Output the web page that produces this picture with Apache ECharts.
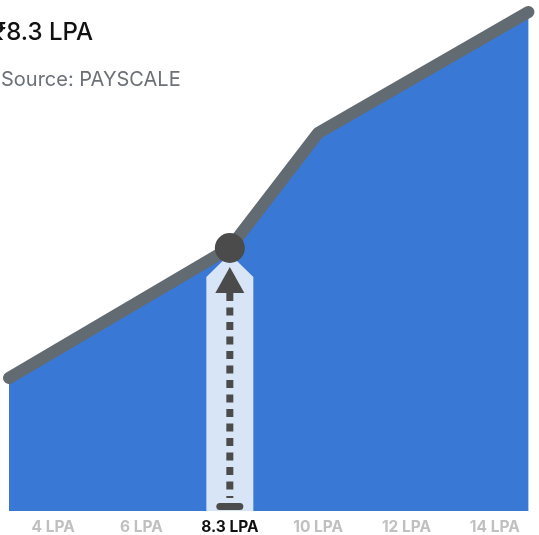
<!DOCTYPE html>
<html>
<head>
<meta charset="utf-8">
<script src="https://cdn.jsdelivr.net/npm/echarts@6/dist/echarts.min.js"></script>
<style>
  html, body { margin: 0; padding: 0; background: #fff; }
  #chart { width: 539px; height: 535px; }
</style>
</head>
<body>
<div id="chart"></div>
<script>
// tick labels along the bottom
const salaryLabels = ["4 LPA", "6 LPA", "8.3 LPA", "10 LPA", "12 LPA", "14 LPA"];
const highlightIndex = 2;
// curve: x position in label slots, y in chart units
const curveX = [-0.5, 2, 3, 5.38];
const curveY = [133, 263, 378, 499];
// the marked salary point
const markerX = 2;
const markerY = 263;

const chart = echarts.init(document.getElementById("chart"));

const dark = "#4b4b4b";

const options = {
    animation: false,
    title: [
        {
            text: "₹8.3 LPA",
            left: -12,
            top: 16,
            textStyle: { fontFamily: "Inter", fontSize: 24, fontWeight: 500, color: "#111" },
        },
        {
            text: "Source: PAYSCALE",
            left: -4,
            top: 65,
            textStyle: { fontFamily: "Inter", fontSize: 20, fontWeight: 400, color: "#6b7177" },
        },
    ],
    grid: { left: 9, width: 534, top: 0, bottom: 24 },
    xAxis: [
        {
            type: "category",
            data: salaryLabels,
            boundaryGap: true,
            axisLine: { show: false },
            axisTick: { show: false },
            axisLabel: {
                interval: 0,
                margin: 8,
                fontFamily: "Inter",
                fontSize: 15.5,
                fontWeight: 700,
                color: "#c0c0c0",
                formatter: (v, i) => (i === highlightIndex ? "{hl|" + v + "}" : "{dim|" + v + "}"),
                rich: {
                    dim: { fontFamily: "Inter", fontSize: 15.5, fontWeight: 700, color: "#c0c0c0" },
                    hl: { fontFamily: "Inter", fontSize: 15.5, fontWeight: 700, color: "#111" },
                },
            },
        },
        { type: "value", min: -0.5, max: 5.5, show: false },
    ],
    yAxis: { type: "value", min: 0, max: 511, show: false },
    series: [
        {
            type: "line",
            xAxisIndex: 1,
            data: curveX.map((x, i) => [x, curveY[i]]),
            symbol: "none",
            lineStyle: { color: "#626b72", width: 12, cap: "round", join: "round" },
            areaStyle: { color: "#3a78d6", opacity: 1 },
            z: 2,
        },
        {
            type: "custom",
            xAxisIndex: 1,
            data: [[markerX, markerY]],
            z: 5,
            renderItem: (params, api) => {
                const top = api.coord([api.value(0), api.value(1)]);
                const base = api.coord([api.value(0), 0]);
                const cx = top[0], cy = top[1], by = base[1];
                const half = 23.5;
                return {
                    type: "group",
                    children: [
                        {
                            type: "polygon",
                            shape: { points: [[cx - half, by], [cx - half, cy + 29], [cx, cy + 6], [cx + half, cy + 29], [cx + half, by]] },
                            style: { fill: "#d8e5f7" },
                        },
                        {
                            type: "polygon",
                            shape: { points: [[cx, cy + 19], [cx - 14.5, cy + 45], [cx + 14.5, cy + 45]] },
                            style: { fill: dark },
                        },
                        {
                            type: "line",
                            shape: { x1: cx, y1: cy + 45, x2: cx, y2: by - 13 },
                            style: { stroke: dark, lineWidth: 7, lineDash: [8, 6.5] },
                        },
                        {
                            type: "rect",
                            shape: { x: cx - 13.5, y: by - 8, width: 27, height: 7, r: 3.5 },
                            style: { fill: dark },
                        },
                        {
                            type: "circle",
                            shape: { cx: cx, cy: cy, r: 15 },
                            style: { fill: dark },
                        },
                    ],
                };
            },
        },
    ],
};

chart.setOption(options);
</script>
</body>
</html>
